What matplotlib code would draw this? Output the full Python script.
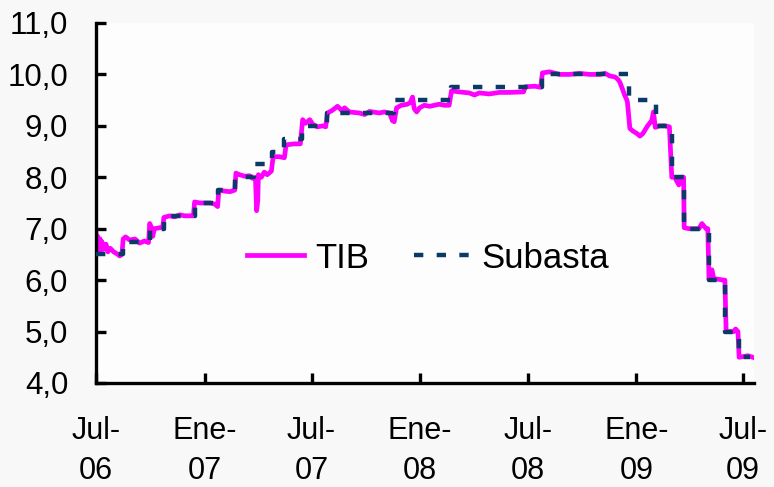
import matplotlib
matplotlib.use("Agg")
import matplotlib.pyplot as plt
import pandas as pd

plt.rcParams['font.family'] = ['Liberation Sans', 'DejaVu Sans']

# ---------------- data ----------------
tib_dates = [
    "2006-07-01", "2006-07-03", "2006-07-04", "2006-07-06", "2006-07-08", "2006-07-09",
    "2006-07-11", "2006-07-14", "2006-07-18", "2006-07-21", "2006-07-25", "2006-07-31",
    "2006-08-07", "2006-08-10", "2006-08-14", "2006-08-16", "2006-08-20", "2006-08-27",
    "2006-09-05", "2006-09-13", "2006-09-21", "2006-09-28", "2006-09-30", "2006-10-03",
    "2006-10-05", "2006-10-08", "2006-10-17", "2006-10-22", "2006-10-24", "2006-11-03",
    "2006-11-11", "2006-11-20", "2006-11-28", "2006-12-13", "2006-12-15", "2006-12-24",
    "2007-01-01", "2007-01-10", "2007-01-18", "2007-01-23", "2007-01-25", "2007-02-04",
    "2007-02-13", "2007-02-21", "2007-02-23", "2007-03-01", "2007-03-10", "2007-03-18",
    "2007-03-23", "2007-03-28", "2007-03-30", "2007-04-01", "2007-04-02", "2007-04-07",
    "2007-04-12", "2007-04-17", "2007-04-24", "2007-04-27", "2007-05-07", "2007-05-16",
    "2007-05-19", "2007-06-02", "2007-06-12", "2007-06-16", "2007-06-21", "2007-06-28",
    "2007-07-03", "2007-07-11", "2007-07-20", "2007-07-25", "2007-07-28", "2007-08-05",
    "2007-08-14", "2007-08-21", "2007-08-26", "2007-09-03", "2007-09-20", "2007-09-29",
    "2007-10-07", "2007-10-24", "2007-11-01", "2007-11-10", "2007-11-15", "2007-11-18",
    "2007-11-22", "2007-11-30", "2007-12-10", "2007-12-15", "2007-12-19", "2007-12-22",
    "2007-12-26", "2007-12-31", "2008-01-08", "2008-01-17", "2008-01-25", "2008-02-02",
    "2008-02-11", "2008-02-19", "2008-02-23", "2008-03-07", "2008-03-24", "2008-04-02",
    "2008-04-10", "2008-04-27", "2008-05-14", "2008-05-31", "2008-06-24", "2008-06-27",
    "2008-07-13", "2008-07-23", "2008-07-26", "2008-08-07", "2008-08-24", "2008-09-10",
    "2008-09-27", "2008-10-14", "2008-10-31", "2008-11-09", "2008-11-17", "2008-11-26",
    "2008-12-01", "2008-12-04", "2008-12-09", "2008-12-12", "2008-12-16", "2008-12-17",
    "2008-12-21", "2008-12-26", "2009-01-02", "2009-01-07", "2009-01-12", "2009-01-20",
    "2009-01-27", "2009-01-30", "2009-02-02", "2009-02-09", "2009-02-18", "2009-02-26",
    "2009-03-02", "2009-03-07", "2009-03-14", "2009-03-17", "2009-03-22", "2009-03-23",
    "2009-03-31", "2009-04-17", "2009-04-22", "2009-04-29", "2009-05-02", "2009-05-04",
    "2009-05-09", "2009-05-12", "2009-05-29", "2009-05-31", "2009-06-02", "2009-06-15",
    "2009-06-18", "2009-06-22", "2009-06-24", "2009-07-09", "2009-07-17",
]
tib_values = [
    6.95, 6.55, 6.85, 6.60, 6.80, 6.55,
    6.75, 6.60, 6.70, 6.55, 6.62, 6.55,
    6.50, 6.47, 6.50, 6.80, 6.84, 6.78,
    6.80, 6.72, 6.76, 6.73, 7.10, 7.02,
    6.85, 7.00, 7.02, 7.03, 7.22, 7.25,
    7.23, 7.27, 7.25, 7.25, 7.52, 7.50,
    7.50, 7.50, 7.48, 7.43, 7.75, 7.73,
    7.72, 7.75, 8.08, 8.05, 8.02, 8.03,
    7.98, 8.00, 7.35, 7.55, 8.05, 8.00,
    8.10, 8.05, 8.12, 8.40, 8.40, 8.38,
    8.63, 8.65, 8.65, 9.12, 9.05, 9.12,
    9.03, 8.98, 9.00, 8.98, 9.25, 9.30,
    9.38, 9.30, 9.35, 9.27, 9.25, 9.22,
    9.28, 9.25, 9.27, 9.25, 9.10, 9.08,
    9.35, 9.40, 9.42, 9.45, 9.56, 9.33,
    9.27, 9.35, 9.40, 9.38, 9.40, 9.42,
    9.40, 9.40, 9.68, 9.66, 9.64, 9.60,
    9.64, 9.62, 9.65, 9.65, 9.66, 9.76,
    9.77, 9.75, 10.03, 10.05, 10.00, 10.00,
    10.02, 10.00, 10.00, 10.02, 9.97, 9.95,
    9.90, 9.85, 9.70, 9.60, 9.50, 9.45,
    8.95, 8.90, 8.85, 8.80, 8.85, 9.00,
    9.10, 9.27, 8.97, 9.00, 9.00, 8.98,
    8.00, 8.00, 7.85, 8.00, 8.00, 7.02,
    7.00, 7.00, 7.10, 7.00, 7.00, 6.02,
    6.20, 6.03, 6.00, 6.00, 5.00, 5.00,
    5.05, 5.00, 4.50, 4.53, 4.50,
]

subasta_dates = [
    "2006-07-01", "2006-08-15", "2006-09-30", "2006-10-25", "2006-12-15", "2007-01-24",
    "2007-02-22", "2007-03-26", "2007-04-25", "2007-05-16", "2007-06-15", "2007-07-27",
    "2007-11-18", "2008-02-22", "2008-07-26", "2008-12-20", "2009-02-03", "2009-03-02",
    "2009-03-22", "2009-05-04", "2009-05-31", "2009-06-24", "2009-07-12",
]
subasta_values = [
    6.50, 6.75, 7.00, 7.25, 7.50, 7.75,
    8.00, 8.25, 8.50, 8.75, 9.00, 9.25,
    9.50, 9.75, 10.00, 9.50, 9.00, 8.00,
    7.00, 6.00, 5.00, 4.50, 4.50,
]

tick_dates = ["2006-07-01", "2007-01-01", "2007-07-01", "2008-01-01",
              "2008-07-01", "2009-01-01", "2009-07-01"]
tick_labels = ["Jul-\n06", "Ene-\n07", "Jul-\n07", "Ene-\n08",
               "Jul-\n08", "Ene-\n09", "Jul-\n09"]
y_ticks = [4, 5, 6, 7, 8, 9, 10, 11]
x_range = ["2006-07-01", "2009-07-19"]

# ---------------- plot ----------------
fig = plt.figure(figsize=(7.74, 4.87), dpi=100, facecolor="#f8f8f8")
ax = fig.add_axes([0.124, 0.2136, 0.850, 0.7392])
ax.set_facecolor("#fdfdfd")

ax.plot(pd.to_datetime(tib_dates), tib_values, color="#ff00ff", lw=3.4,
        label="TIB", zorder=2, solid_joinstyle="round")
ax.plot(pd.to_datetime(subasta_dates), subasta_values, color="#0b3a68", lw=3.2,
        dashes=(2.1, 3.0), drawstyle="steps-post", label="Subasta", zorder=3)

ax.set_xlim(pd.to_datetime(x_range[0]), pd.to_datetime(x_range[1]))
ax.set_ylim(4, 11)
ax.set_yticks(y_ticks)
ax.set_yticklabels([f"{v:.1f}".replace(".", ",") for v in y_ticks])
ax.set_xticks(pd.to_datetime(tick_dates))
ax.set_xticklabels(tick_labels, linespacing=1.42, ha="center")

for s in ["top", "right"]:
    ax.spines[s].set_visible(False)
for s in ["left", "bottom"]:
    ax.spines[s].set_linewidth(2.4)
    ax.spines[s].set_color("black")

ax.tick_params(axis="y", direction="in", length=7.5, width=2.4, pad=20,
               labelsize=22.5, colors="black")
ax.tick_params(axis="x", direction="in", length=7.5, width=2.4, pad=24,
               labelsize=22, colors="black")

leg = ax.legend(loc="center", bbox_to_anchor=(0.505, 0.347), ncol=2, frameon=False,
                fontsize=25, handlelength=1.65, handletextpad=0.3, columnspacing=1.3)

fig.savefig("out.png", dpi=100, facecolor=fig.get_facecolor())
